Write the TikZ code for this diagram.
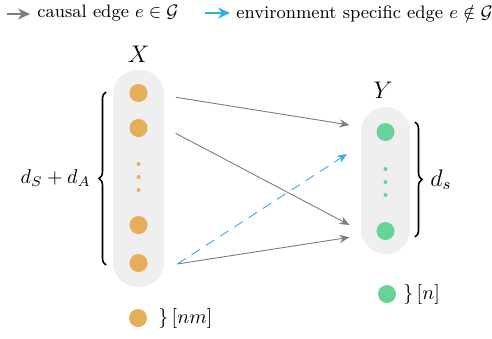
\documentclass[tikz,border=0pt]{standalone}
\usepackage{amsmath,amssymb}
\usepackage{tikz}
\usetikzlibrary{arrows.meta,decorations.pathreplacing}
\definecolor{DotX}  {RGB}{231,173,90}
\definecolor{DotY}  {RGB}{104,211,152}
\definecolor{PillBg}{RGB}{239,239,239}
\definecolor{EdgeC} {RGB}{125,125,125}
\definecolor{EdgeE} {RGB}{52,172,230}
\tikzset{
  pill/.style={rectangle,fill=PillBg,draw=none,rounded corners=12.2pt,inner sep=0pt},
  dot_x/.style={circle,fill=DotX,minimum size=9pt,inner sep=0pt},
  dot_y/.style={circle,fill=DotY,minimum size=9pt,inner sep=0pt},
  sdot/.style={circle,minimum size=2pt,inner sep=0pt},
  arr/.style={-{Stealth[length=5pt,width=4pt]},draw=EdgeC,line width=0.45pt},
  arr_env/.style={-{Stealth[length=5pt,width=4pt]},draw=EdgeE,line width=0.45pt,dash pattern=on 5pt off 3.5pt},
  legarr/.style={-{Stealth[length=6pt,width=5.5pt]},line width=1.1pt},
  legtxt/.style={font=\small,inner sep=1pt,anchor=west},
  brc/.style={decorate,decoration={brace,amplitude=3.5pt},thick},
}
\begin{document}
\begin{tikzpicture}[x=0.5pt,y=-0.5pt]
\useasboundingbox (0,0) rectangle (492,338);
\def\cX{138.5}\def\cY{385.5}
% legend
\node[legtxt] at (35,13.5)(lt1){causal edge $e\in\mathcal{G}$};
\node[legtxt] at (234,13.5)(lt2){environment specific edge $e\notin\mathcal{G}$};
\coordinate (lg1) at (7,14);
\coordinate (lg2) at (205,13);
\draw[legarr,EdgeC,shorten >=2.5pt](lg1)--(lg1-|lt1.west);
\draw[legarr,EdgeE,shorten >=2pt](lg2)--(lg2-|lt2.west);
% X column
\node[pill,minimum width=25.5pt,minimum height=108.5pt] at (\cX,178.5)(PX){};
\node[font=\large] at (\cX,54)(LX){$X$};
\node[dot_x] at (\cX,93)(x1){};
\node[dot_x] at (\cX,128)(x2){};
\node[dot_x] at (\cX,225)(x3){};
\node[dot_x] at (\cX,263)(x4){};
\foreach \y/\n in {164/a,177/b,190/c}{\node[sdot,fill=DotX] at (\cX,\y)(xd\n){};}
% Y column
\node[pill,minimum width=24.5pt,minimum height=73.5pt] at (\cY,180.5)(PY){};
\node[font=\large] at (383,90)(LY){$Y$};
\node[dot_y] at (\cY,132)(y1){};
\node[dot_y] at (\cY,231)(y2){};
\foreach \y/\n in {169/a,182/b,195/c}{\node[sdot,fill=DotY] at (\cY,\y)(yd\n){};}
% braces
\coordinate (bxb) at (106,265);\coordinate (bxt) at (106,92);
\draw[brc](bxb)--(bxt) node[midway,left=4pt](dX){$d_S+d_A$};
\coordinate (byt) at (415,122);\coordinate (byb) at (415,237);
\draw[brc](byt)--(byb) node[midway,right=4pt,font=\large](dY){$d_s$};
% sample size
\node[dot_x] at (138,318)(nx){};
\node[anchor=west,inner sep=0pt] at (158,318)(nxl){$\}\,[nm]$};
\node[dot_y] at (387,294)(ny){};
\node[anchor=west,inner sep=0pt] at (403,294)(nyl){$\}\,[n]$};
% edges
\coordinate (s1) at (176,97.3);\coordinate (t1) at (349.5,125);
\coordinate (s2) at (175.7,133.3);\coordinate (t2) at (349.5,225);
\coordinate (s3) at (177.3,264);\coordinate (t3) at (349.5,237.3);
\coordinate (t4) at (347,154);
\draw[arr](s1)--(t1);
\draw[arr](s2)--(t2);
\draw[arr](s3)--(t3);
\draw[arr_env](s3)--(t4);
\end{tikzpicture}
\end{document}
